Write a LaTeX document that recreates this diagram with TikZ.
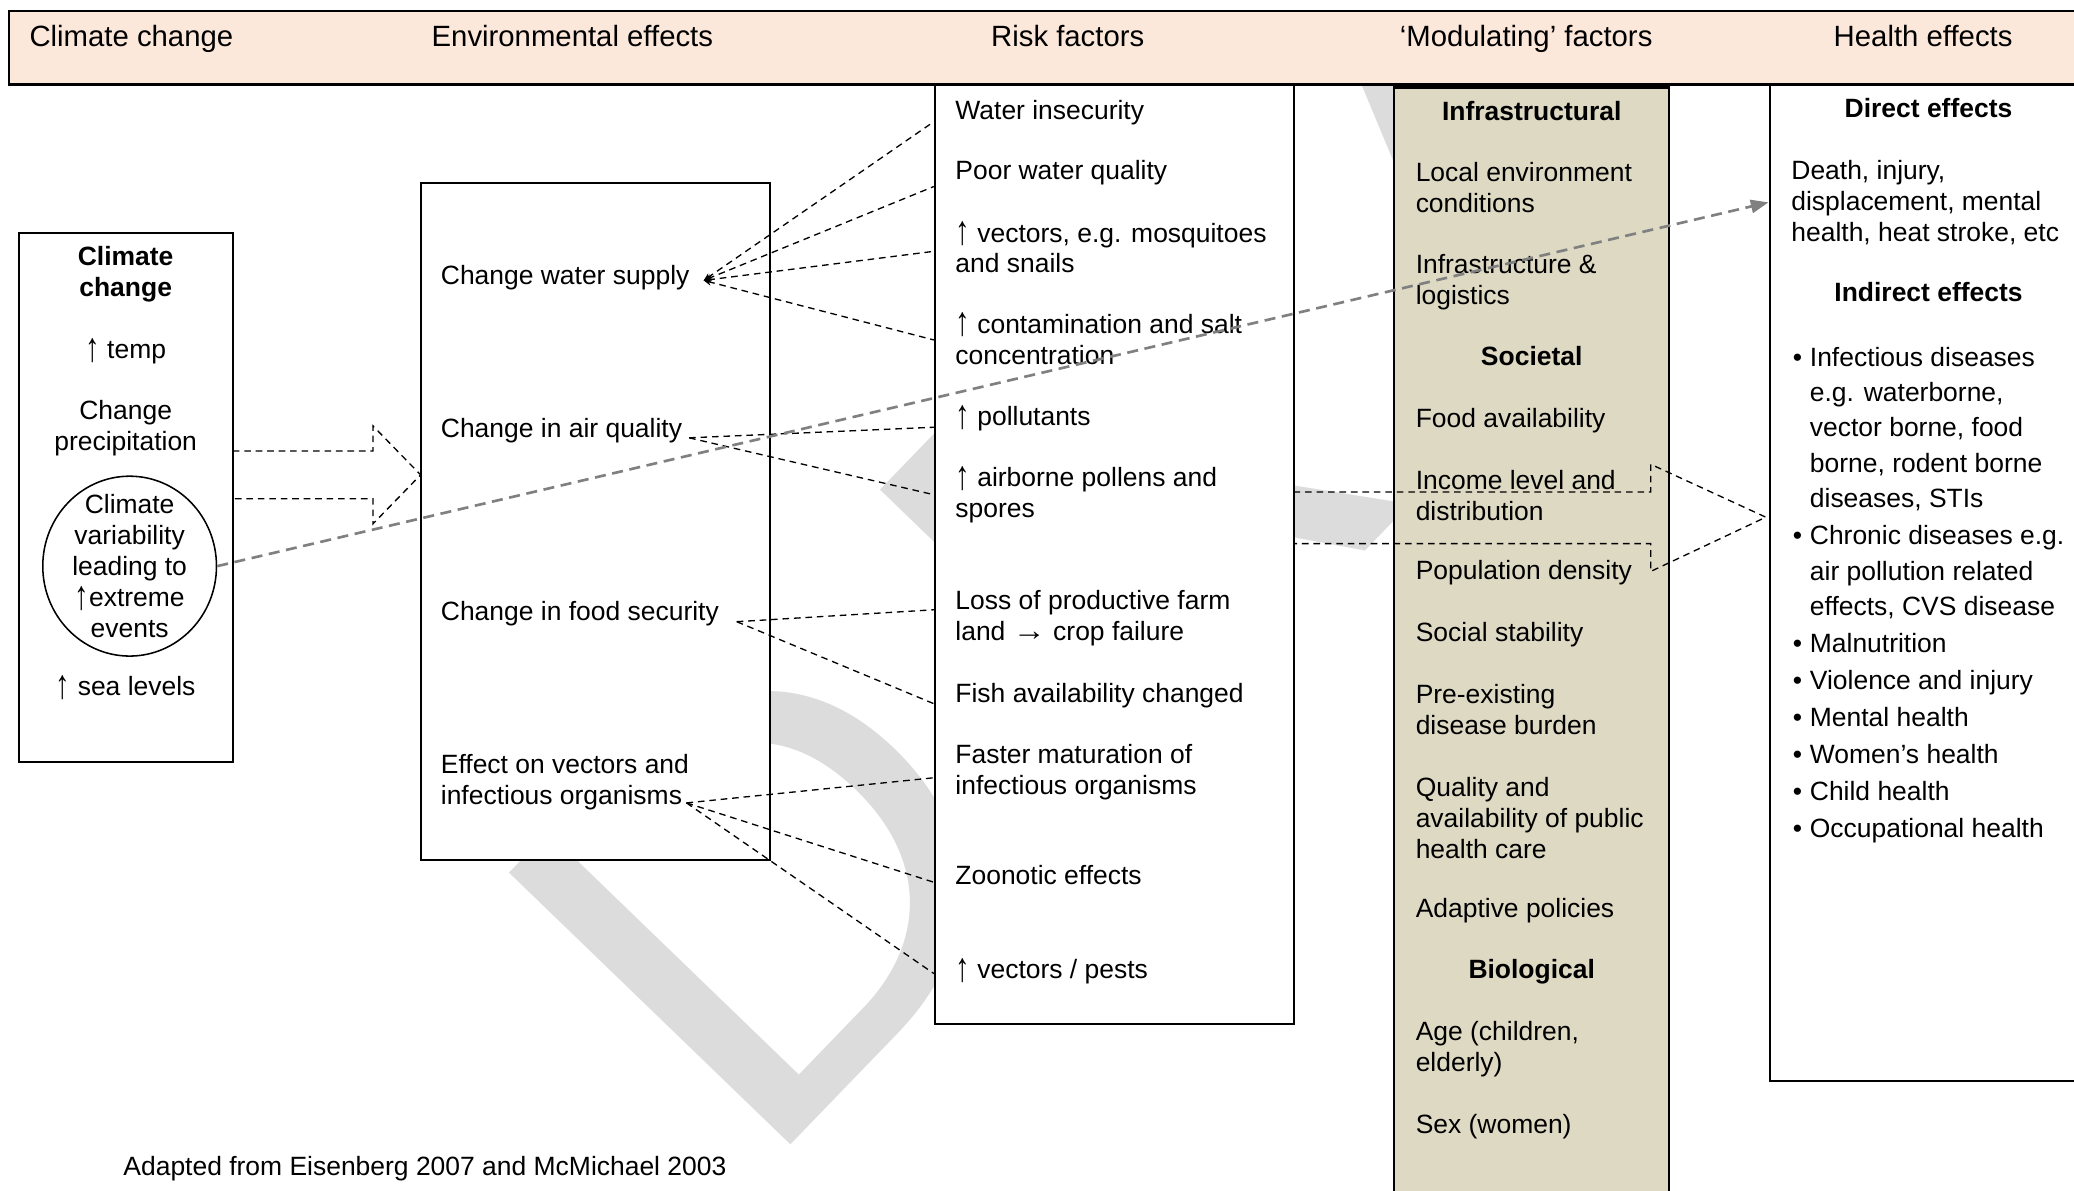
\documentclass[tikz,border=0pt]{standalone}
\usepackage{fontspec}
\setmainfont{Liberation Sans}
\usetikzlibrary{arrows.meta,shapes.geometric}
\definecolor{hdrfill}{HTML}{FCE8DA}
\definecolor{modfill}{HTML}{DDD9C3}
\definecolor{wmark}{HTML}{DCDCDC}
\definecolor{lnkgray}{HTML}{808080}
\newcommand\uparr{\raisebox{-1.2pt}{\scalebox{1.1}[1.55]{↑}}}
\newcommand\rtarr{\scalebox{1.25}[1.1]{→}}
\newcommand\bult{\llap{•\hspace{3.5pt}}}
\tikzset{
	lbl/.style={anchor=base west, align=left, inner sep=0pt, font=\fontsize{12}{14}\selectfont},
	ttl/.style={anchor=base, align=center, inner sep=0pt, font=\fontsize{12}{14}\selectfont\bfseries},
	ctr/.style={anchor=base, align=center, inner sep=0pt, font=\fontsize{12}{14}\selectfont},
	hdr/.style={anchor=base west, inner sep=0pt, font=\fontsize{13.3}{16}\selectfont},
	bul/.style={lbl, font=\fontsize{12}{16}\selectfont},
	box/.style={draw, line width=0.9pt, fill=white},
	dline/.style={line width=0.6pt, dash pattern=on 3pt off 2.2pt},
	garrow/.style={draw=lnkgray, line width=1.2pt, dash pattern=on 5pt off 3pt,
		-{Triangle[length=8pt,width=6pt,fill=lnkgray]}},
}
\begin{document}
\begin{tikzpicture}[x=0.6pt,y=-0.6pt]
	\useasboundingbox (0,0) rectangle (1568,900.4);
	\begin{scope}
		\clip (0,8) rectangle (1262,900.4);
		\node[rotate=46, xscale=1.06, anchor=base west, inner sep=0pt, text=wmark,
			font=\fontsize{258}{258}\selectfont] (wm) at (572,893)
			{D\hspace{42pt}R\hspace{42pt}A\hspace{42pt}F\hspace{42pt}T};
	\end{scope}
	\draw[box] (14,176) rectangle (176,576);
	\draw[box] (318,138) rectangle (582,650);
	\draw[box] (707,64) rectangle (978,774);
	\fill[modfill] (1054,66) rectangle (1262,905);
	\draw[line width=0.9pt] (1054,905) -- (1054,66) -- (1262,66) -- (1262,905);
	\draw[line width=1.6pt] (1054,66) -- (1262,66);
	\draw[box] (1338,64) rectangle (1580,817);
	\draw[fill=hdrfill, line width=0.9pt] (7,8) rectangle (1580,64);
	\draw[line width=1.5pt] (7,64) -- (1580,64);
	\node[hdr] (hd1) at (22,35) {Climate change};
	\node[hdr] (hd2) at (326,35) {Environmental effects};
	\node[hdr] (hd3) at (749,35) {Risk factors};
	\node[hdr] (hd4) at (1058,35) {‘Modulating’ factors};
	\node[hdr] (hd5) at (1386,35) {Health effects};
	\node[ttl] (cc0) at (95,224.3) {Climate\\change};
	\node[ctr] (cc1) at (95,271) {\uparr\ temp};
	\node[ctr] (cc2) at (95,340.3) {Change\\precipitation};
	\node[draw, ellipse, line width=0.7pt, inner sep=0pt, minimum width=78.8pt, minimum height=81.6pt]
		(ell) at (98,428) {};
	\node[align=center, inner sep=0pt, font=\fontsize{12}{14}\selectfont] (elltxt) at (ell)
		{Climate\\variability\\leading to\\\uparr extreme\\events};
	\node[ctr] (cc3) at (95,526) {\uparr\ sea levels};
	\node[lbl] (e1) at (333,215) {Change water supply};
	\node[lbl] (e2) at (333,331) {Change in air quality};
	\node[lbl] (e3) at (333,469) {Change in food security};
	\node[lbl] (e4) at (333,608.3) {Effect on vectors and\\infectious organisms};
	\node[lbl] (r1) at (722,90) {Water insecurity};
	\node[lbl] (r2) at (722,136) {Poor water quality};
	\node[lbl] (r3) at (722,206.3) {\uparr\ vectors, e.g. mosquitoes\\and snails};
	\node[lbl] (r4) at (722,275.3) {\uparr\ contamination and salt\\concentration};
	\node[lbl] (r5) at (722,322) {\uparr\ pollutants};
	\node[lbl] (r6) at (722,391.3) {\uparr\ airborne pollens and\\spores};
	\node[lbl] (r7) at (722,484.3) {Loss of productive farm\\land \rtarr\ crop failure};
	\node[lbl] (r8) at (722,531) {Fish availability changed};
	\node[lbl] (r9) at (722,600.3) {Faster maturation of\\infectious organisms};
	\node[lbl] (r10) at (722,669) {Zoonotic effects};
	\node[lbl] (r11) at (722,740) {\uparr\ vectors / pests};
	\node[ttl] (m0) at (1158,91) {Infrastructural};
	\node[lbl] (m1) at (1070,160.3) {Local environment\\conditions};
	\node[lbl] (m2) at (1070,230.3) {Infrastructure \&\\logistics};
	\node[ttl] (m3) at (1158,276) {Societal};
	\node[lbl] (m4) at (1070,323) {Food availability};
	\node[lbl] (m5) at (1070,393.3) {Income level and\\distribution};
	\node[lbl] (m6) at (1070,438) {Population density};
	\node[lbl] (m7) at (1070,485) {Social stability};
	\node[lbl] (m8) at (1070,555.3) {Pre-existing\\disease burden};
	\node[lbl] (m9) at (1070,648.7) {Quality and\\availability of public\\health care};
	\node[lbl] (m10) at (1070,694) {Adaptive policies};
	\node[ttl] (m11) at (1158,740) {Biological};
	\node[lbl] (m12) at (1070,810.3) {Age (children,\\elderly)};
	\node[lbl] (m13) at (1070,857) {Sex (women)};
	\node[ttl] (h0) at (1458,89) {Direct effects};
	\node[lbl] (h1) at (1354,182.7) {Death, injury,\\displacement, mental\\health, heat stroke, etc};
	\node[ttl] (h2) at (1458,228) {Indirect effects};
	\node[bul] (b1) at (1368,383.7) {\bult Infectious diseases\\e.g. waterborne,\\vector borne, food\\borne, rodent borne\\diseases, STIs};
	\node[bul] (b2) at (1368,465.3) {\bult Chronic diseases e.g.\\air pollution related\\effects, CVS disease};
	\node[bul] (b3) at (1368,493) {\bult Malnutrition};
	\node[bul] (b4) at (1368,521) {\bult Violence and injury};
	\node[bul] (b5) at (1368,549) {\bult Mental health};
	\node[bul] (b6) at (1368,577) {\bult Women’s health};
	\node[bul] (b7) at (1368,605) {\bult Child health};
	\node[bul] (b8) at (1368,633) {\bult Occupational health};
	\node[lbl] (src) at (93,889) {Adapted from Eisenberg 2007 and McMichael 2003};
	\coordinate (ws) at (532,212);
	\coordinate (aq) at (521,331);
	\coordinate (fs) at (557,470);
	\coordinate (vo) at (519,607);
	\coordinate (r1w) at (706,92);
	\coordinate (r2w) at (706,141);
	\coordinate (r3w) at (706,190);
	\coordinate (r4w) at (706,257);
	\coordinate (r5w) at (706,323);
	\coordinate (r6w) at (706,374);
	\coordinate (r7w) at (706,461);
	\coordinate (r8w) at (706,532);
	\coordinate (r9w) at (706,588);
	\coordinate (r10w) at (706,667);
	\coordinate (r11w) at (706,736);
	\foreach \t in {r1w,r2w,r3w,r4w}
		\draw[dline, {Stealth[length=3.5pt,width=3pt]}-] (ws) -- (\t);
	\foreach \t in {r5w,r6w}
		\draw[dline] (aq) -- (\t);
	\foreach \t in {r7w,r8w}
		\draw[dline] (fs) -- (\t);
	\foreach \t in {r9w,r10w,r11w}
		\draw[dline] (vo) -- (\t);
	\coordinate (ccE) at (176,359);
	\coordinate (envW) at (318,359);
	\draw[dline] (ccE) ++(0,-18) -- ++(106,0) -- ++(0,-19) -- (envW) -- ++(-36,37) -- ++(0,-19) -- ++(-106,0);
	\coordinate (riskE) at (978,391.5);
	\coordinate (hlW) at (1335,391);
	\draw[dline] (riskE) ++(0,-19.5) -- ++(270,0) -- ++(0,-21) -- (hlW) -- ++(-87,41) -- ++(0,-21) -- ++(-270,0);
	\coordinate (deathW) at (1337,153);
	\draw[garrow] (ell.east) -- (deathW);
\end{tikzpicture}
\end{document}
